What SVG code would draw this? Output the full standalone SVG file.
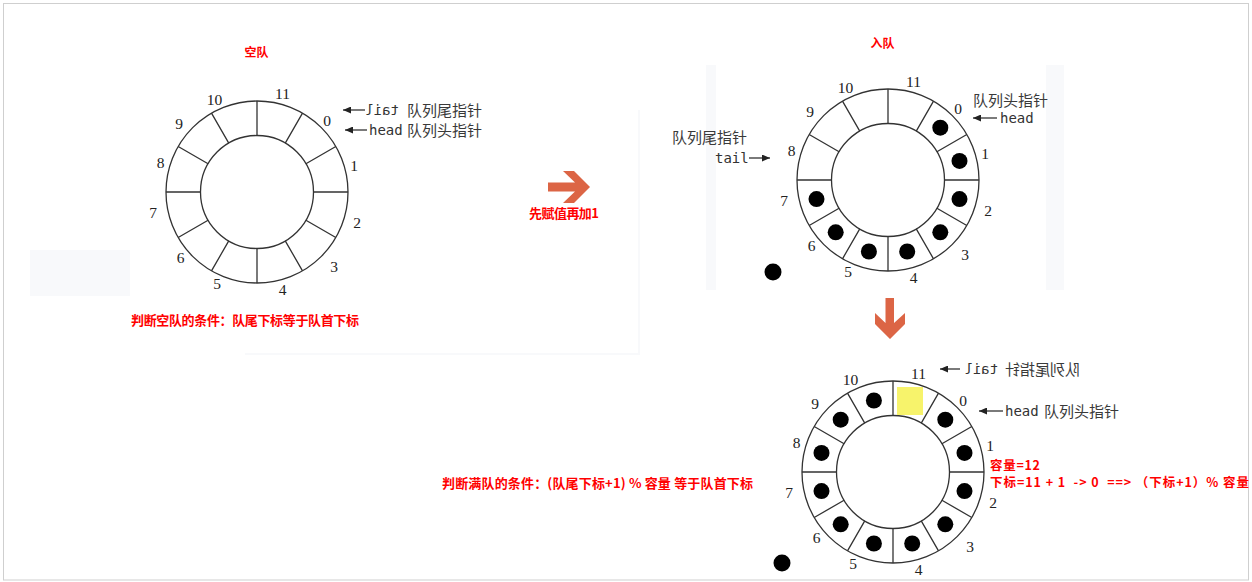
<svg xmlns="http://www.w3.org/2000/svg" xmlns:xlink="http://www.w3.org/1999/xlink" width="1252" height="582" viewBox="0 0 1252 582">
<style>
.rg{fill:none;stroke:#333;stroke-width:1.3}
.num{font-family:"Liberation Serif",serif;font-size:15.5px;fill:#222;text-anchor:middle}
.cn{font-family:"Noto Sans CJK SC",sans-serif;font-size:15px;fill:#3a3a3a}
.mono{font-family:"DejaVu Sans Mono",monospace;font-size:14px;fill:#333}
.red{font-family:"Noto Sans CJK SC",sans-serif;font-size:13px;font-weight:700;fill:#f00;white-space:pre}
.ptr{stroke:#222;stroke-width:1.2;marker-end:url(#ah)}
.ball{fill:#000}
.big{fill:#dc6545}
.faint{fill:#f8f9fb}
</style>
<defs>
<marker id="ah" markerUnits="userSpaceOnUse" markerWidth="9" markerHeight="7" refX="8" refY="3.5" orient="auto">
<path d="M0,0L8,3.5L0,7z" fill="#222"/>
</marker>
<g id="ring">
<circle class="rg" r="91"/>
<circle class="rg" r="56.5"/>
<path class="rg" d="M0,-56.5V-91M28.25,-48.93L45.5,-78.81M48.93,-28.25L78.81,-45.5M56.5,0H91M48.93,28.25L78.81,45.5M28.25,48.93L45.5,78.81M0,56.5V91M-28.25,48.93L-45.5,78.81M-48.93,28.25L-78.81,45.5M-56.5,0H-91M-48.93,-28.25L-78.81,-45.5M-28.25,-48.93L-45.5,-78.81"/>
</g>
</defs>
<rect x="0" y="0" width="1252" height="582" fill="#fff"/>
<g id="background">
<rect class="faint" x="30" y="250" width="100" height="46"/>
<rect class="faint" x="638" y="110" width="2" height="245"/>
<rect class="faint" x="245" y="353" width="395" height="2"/>
<rect class="faint" x="706" y="65" width="10" height="225"/>
<rect class="faint" x="1046" y="65" width="18" height="225"/>
</g>
<rect x="3.5" y="3.5" width="1245" height="576.5" fill="none" stroke="#cfcfcf" stroke-width="1"/>

<g id="empty-queue">
<text class="red" x="256.5" y="56.5" text-anchor="middle" style="font-size:12px">空队</text>
<use xlink:href="#ring" x="257" y="192"/>
<text class="num" x="282.5" y="98.5">11</text>
<text class="num" x="327" y="126">0</text>
<text class="num" x="354" y="171">1</text>
<text class="num" x="357" y="228">2</text>
<text class="num" x="334" y="272">3</text>
<text class="num" x="282.5" y="295">4</text>
<text class="num" x="217" y="289">5</text>
<text class="num" x="180.5" y="263">6</text>
<text class="num" x="153" y="217.5">7</text>
<text class="num" x="160.5" y="167.5">8</text>
<text class="num" x="179" y="129">9</text>
<text class="num" x="214.5" y="105">10</text>
<text class="mono" x="382" y="115" text-anchor="middle" transform="matrix(-1 0 0 1 764 0)">tail</text>
<text class="cn" x="407" y="115.5">队列尾指针</text>
<text class="mono" x="369" y="135">head</text>
<text class="cn" x="407" y="135.5">队列头指针</text>
<text class="red" x="131" y="325" textLength="228">判断空队的条件：队尾下标等于队首下标</text>
</g>

<g id="enqueue-step">
<polygon class="big" points="548,182.5 575,182.5 563,171 574,171 590,187 574,203 563,203 575,191.5 548,191.5"/>
<text class="red" x="529" y="218" textLength="70">先赋值再加1</text>
</g>

<g id="enqueue">
<text class="red" x="882.5" y="47.5" text-anchor="middle" style="font-size:12px">入队</text>
<use xlink:href="#ring" x="888" y="180"/>
<text class="num" x="913.5" y="86.5">11</text>
<text class="num" x="958" y="114">0</text>
<text class="num" x="985" y="159">1</text>
<text class="num" x="988" y="216">2</text>
<text class="num" x="965" y="260">3</text>
<text class="num" x="913.5" y="283">4</text>
<text class="num" x="848" y="277">5</text>
<text class="num" x="811.5" y="251">6</text>
<text class="num" x="784" y="205.5">7</text>
<text class="num" x="791.5" y="155.5">8</text>
<text class="num" x="810" y="117">9</text>
<text class="num" x="845.5" y="93">10</text>
<circle class="ball" cx="940.3" cy="127.7" r="8"/>
<circle class="ball" cx="959.5" cy="160.9" r="8"/>
<circle class="ball" cx="959.5" cy="199.1" r="8"/>
<circle class="ball" cx="940.3" cy="232.3" r="8"/>
<circle class="ball" cx="907.2" cy="251.5" r="8"/>
<circle class="ball" cx="868.9" cy="251.5" r="8"/>
<circle class="ball" cx="835.7" cy="232.3" r="8"/>
<circle class="ball" cx="816.5" cy="199.1" r="8"/>
<circle class="ball" cx="773" cy="272" r="8.5"/>
<text class="cn" x="973" y="105.5">队列头指针</text>
<text class="mono" x="1000" y="123">head</text>
<text class="cn" x="672" y="142.5">队列尾指针</text>
<text class="mono" x="715" y="163">tail</text>
</g>

<g id="step-down">
<polygon class="big" points="885.5,298 894,298 894,323 905,313 905,324 890,339 875,324 875,313 885.5,323"/>
</g>

<g id="full-queue">
<use xlink:href="#ring" x="893" y="472"/>
<rect x="897" y="387" width="26" height="28" fill="#f7f36b"/>
<text class="num" x="918.5" y="378.5">11</text>
<text class="num" x="963" y="406">0</text>
<text class="num" x="990" y="451">1</text>
<text class="num" x="993" y="508">2</text>
<text class="num" x="970" y="552">3</text>
<text class="num" x="918.5" y="575">4</text>
<text class="num" x="853" y="569">5</text>
<text class="num" x="816.5" y="543">6</text>
<text class="num" x="789" y="497.5">7</text>
<text class="num" x="796.5" y="447.5">8</text>
<text class="num" x="815" y="409">9</text>
<text class="num" x="850.5" y="385">10</text>
<circle class="ball" cx="945.3" cy="419.7" r="8"/>
<circle class="ball" cx="964.5" cy="452.9" r="8"/>
<circle class="ball" cx="964.5" cy="491.1" r="8"/>
<circle class="ball" cx="945.3" cy="524.3" r="8"/>
<circle class="ball" cx="912.2" cy="543.5" r="8"/>
<circle class="ball" cx="873.9" cy="543.5" r="8"/>
<circle class="ball" cx="840.7" cy="524.3" r="8"/>
<circle class="ball" cx="821.5" cy="491.1" r="8"/>
<circle class="ball" cx="821.5" cy="452.9" r="8"/>
<circle class="ball" cx="840.7" cy="419.7" r="8"/>
<circle class="ball" cx="873.9" cy="400.5" r="8"/>
<circle class="ball" cx="782" cy="563" r="8.5"/>
<g transform="matrix(-1 0 0 1 2044 0)">
<text class="cn" x="964" y="374.5">队列尾指针</text>
<text class="mono" x="1046" y="374">tail</text>
</g>
<text class="mono" x="1005" y="416">head</text>
<text class="cn" x="1044" y="416.5">队列头指针</text>
<text class="red" x="442" y="488" textLength="311">判断满队的条件：(队尾下标+1) % 容量 等于队首下标</text>
<text class="red" x="990" y="470" textLength="50" style="font-size:12.5px">容量=12</text>
<text class="red" x="990" y="487" textLength="259" style="font-size:12.5px">下标=11 + 1  -&gt; 0  ==&gt; （下标+1）% 容量</text>
</g>

<g id="connectors">
<line class="ptr" x1="365" y1="110" x2="343" y2="110"/>
<line class="ptr" x1="367" y1="130" x2="345" y2="130"/>
<line class="ptr" x1="997" y1="118" x2="973" y2="118"/>
<line class="ptr" x1="749" y1="158" x2="770" y2="158"/>
<line class="ptr" x1="960" y1="369" x2="940" y2="369"/>
<line class="ptr" x1="1003" y1="411" x2="979" y2="411"/>
</g>
</svg>
